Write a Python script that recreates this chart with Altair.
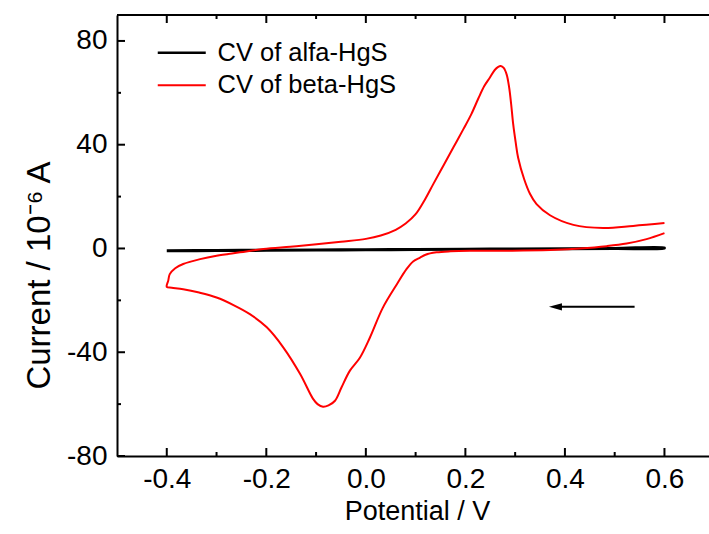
import altair as alt
import pandas as pd

FONT = "Liberation Sans"

# ---------------- data ----------------
series_names = ["CV of alfa-HgS", "CV of beta-HgS"]
series_colors = ["#000000", "#ff0000"]
series_widths = [2.6, 2.0]

# alfa-HgS : nearly flat loop around zero
alfa_v = [-0.40, -0.30, -0.20, -0.10, 0.00, 0.10, 0.20, 0.30, 0.40, 0.50, 0.60,
          0.60, 0.50, 0.40, 0.30, 0.20, 0.10, 0.00, -0.10, -0.20, -0.30, -0.40]
alfa_i = [-0.8, -0.7, -0.6, -0.5, -0.4, -0.3, -0.2, -0.1, 0.0, 0.1, 0.3,
          0.1, -0.1, -0.2, -0.3, -0.4, -0.5, -0.6, -0.7, -0.8, -0.9, -1.0]

# beta-HgS : cathodic sweep 0.6 -> -0.4, then anodic sweep -0.4 -> 0.6
beta_v = [0.600, 0.564, 0.524, 0.484, 0.430, 0.383, 0.316, 0.250, 0.209, 0.170,
          0.142, 0.120, 0.109, 0.095, 0.082, 0.063, 0.034, 0.008, -0.012, -0.032,
          -0.049, -0.062, -0.075, -0.086, -0.097, -0.106, -0.132, -0.166, -0.199, -0.233,
          -0.266, -0.300, -0.335, -0.367, -0.390, -0.400,
          -0.397, -0.394, -0.383, -0.367, -0.333, -0.300, -0.253, -0.206, -0.152, -0.099,
          -0.050, 0.000, 0.030, 0.060, 0.080, 0.100, 0.118, 0.136, 0.156, 0.176,
          0.196, 0.212, 0.226, 0.238, 0.249, 0.259, 0.266, 0.271, 0.277, 0.283,
          0.288, 0.292, 0.296, 0.301, 0.306, 0.318, 0.330, 0.343, 0.370, 0.417,
          0.477, 0.537, 0.600]
beta_i = [5.9, 3.6, 1.9, 0.9, 0.0, -0.5, -0.8, -0.9, -0.9, -1.1,
          -1.5, -2.4, -3.5, -5.0, -7.9, -13.6, -22.9, -34.4, -42.1, -47.1,
          -53.6, -58.7, -60.5, -61.0, -60.0, -58.0, -48.4, -38.1, -30.4, -25.3,
          -21.8, -18.9, -17.0, -15.7, -15.1, -14.8,
          -12.4, -9.9, -7.6, -6.0, -4.1, -2.8, -1.5, -0.2, 0.7, 1.6,
          2.6, 3.7, 5.0, 7.2, 9.6, 13.2, 18.6, 25.0, 32.0, 39.0,
          46.0, 51.8, 57.8, 62.6, 65.8, 68.8, 70.0, 70.3, 69.6, 67.0,
          62.0, 55.6, 48.0, 41.0, 35.0, 26.8, 21.0, 17.1, 12.8, 9.1,
          7.9, 8.7, 9.8]

x_major = [-0.4, -0.2, 0.0, 0.2, 0.4, 0.6]
x_minor = [-0.3, -0.1, 0.1, 0.3, 0.5]
y_major = [-80, -40, 0, 40, 80]
y_minor = [-60, -20, 20, 60]
x_domain = [-0.5, 0.6895]
y_domain = [-80, 90]

arrow_v = [0.540, 0.385]
arrow_i = [-22.5, -22.5]
head_v = [0.381]
head_i = [-22.5]

# ---------------- layout / style ----------------
W, H = 592, 441
MAJ, MIN = 8, 4
HYPHEN = "replace(datum.label, '\u2212', '-')"

rows = []
for name, vs, cs in [(series_names[0], alfa_v, alfa_i), (series_names[1], beta_v, beta_i)]:
    for k, (v, c) in enumerate(zip(vs, cs)):
        rows.append({"series": name, "V": v, "I": c, "order": k})
df = pd.DataFrame(rows)

xs = alt.Scale(domain=x_domain, nice=False, zero=False)
ys = alt.Scale(domain=y_domain, nice=False, zero=False)

x_axis = alt.Axis(values=x_major, format=".1f", labelExpr=HYPHEN, grid=False,
                  ticks=False, tickSize=0,
                  labelFont=FONT, labelFontSize=28, labelColor="black", labelPadding=9,
                  labelFlush=False, labelOverlap=False,
                  domainColor="black", domainWidth=2,
                  title="Potential / V", titleFont=FONT, titleFontSize=27,
                  titleFontWeight="normal", titleColor="black",
                  titleX=300, titleY=63, titleBaseline="alphabetic", titleAlign="center")
y_axis = alt.Axis(values=y_major, format="d", labelExpr=HYPHEN, grid=False,
                  ticks=False, tickSize=0,
                  labelFont=FONT, labelFontSize=28, labelColor="black", labelPadding=10,
                  labelFlush=False, labelOverlap=False,
                  domainColor="black", domainWidth=2,
                  title="Current / 10⁻⁶ A", titleFont=FONT, titleFontSize=33,
                  titleFontWeight="normal", titleColor="black",
                  titleX=-68, titleY=260, titleBaseline="alphabetic", titleAlign="center")

X = alt.X("V:Q", scale=xs, axis=x_axis)
Y = alt.Y("I:Q", scale=ys, axis=y_axis)

curves = alt.Chart(df).mark_line(interpolate="catmull-rom").encode(
    x=X, y=Y,
    color=alt.Color("series:N",
                    scale=alt.Scale(domain=series_names, range=series_colors),
                    legend=alt.Legend(title=None, orient="none", legendX=52, legendY=25,
                                      symbolType="M-2.4,0H2.4", symbolSize=400,
                                      symbolStrokeWidth=2, labelFont=FONT,
                                      labelFontSize=25.5, labelColor="black",
                                      labelOffset=23, rowPadding=5.6, padding=0,
                                      labelLimit=0)),
    strokeWidth=alt.StrokeWidth("series:N",
                                scale=alt.Scale(domain=series_names, range=series_widths),
                                legend=None),
    order=alt.Order("order:Q"),
)

def ticks_x(vals, top, length):
    d = pd.DataFrame({"V": vals})
    y0 = 0 if top else H
    y1 = length if top else H - length
    return alt.Chart(d).mark_rule(color="black", strokeWidth=2).encode(
        x=X, y=alt.value(y0), y2=alt.value(y1))

def ticks_y(vals, length):
    d = pd.DataFrame({"I": vals})
    return alt.Chart(d).mark_rule(color="black", strokeWidth=2).encode(
        y=Y, x=alt.value(0), x2=alt.value(length))

arrow_df = pd.DataFrame({"V": arrow_v, "I": arrow_i})
head_df = pd.DataFrame({"V": head_v, "I": head_i})
arrow = alt.Chart(arrow_df).mark_line(color="black", strokeWidth=2).encode(x=X, y=Y)
head = alt.Chart(head_df).mark_point(shape="M-1,0L1,-0.55L1,0.55Z", filled=True,
                                     size=169, color="black", opacity=1).encode(x=X, y=Y)

top_border = alt.Chart(pd.DataFrame({"k": [0]})).mark_rule(color="black", strokeWidth=2).encode(
    x=alt.value(0), x2=alt.value(W), y=alt.value(0))

chart = alt.layer(
    curves,
    ticks_x(x_major, False, MAJ), ticks_x(x_minor, False, MIN),
    ticks_x(x_major, True, MAJ), ticks_x(x_minor, True, MIN),
    ticks_y(y_major, MAJ), ticks_y(y_minor, MIN),
    arrow, head, top_border,
).properties(
    width=W, height=H,
    autosize=alt.AutoSizeParams(type="none"),
    padding={"left": 117, "top": 15, "right": 0, "bottom": 78},
    background="white",
).configure_view(stroke=None)

chart.save("out.html", embed_options={"renderer": "svg", "actions": False})
